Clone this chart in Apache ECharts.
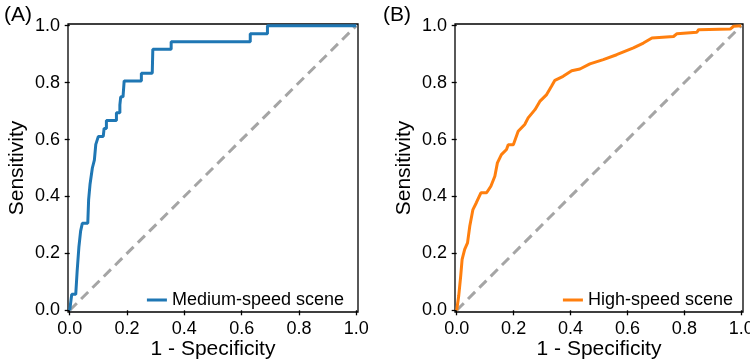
<!DOCTYPE html>
<html>
<head>
<meta charset="utf-8">
<script src="https://cdn.jsdelivr.net/npm/echarts@6/dist/echarts.min.js"></script>
<style>
  html, body { margin: 0; padding: 0; background: #fff; }
  #chart { width: 750px; height: 362px; }
</style>
</head>
<body>
<div id="chart"></div>
<script>
// tick values shared by both panels
const tickValues = [0, 0.2, 0.4, 0.6, 0.8, 1.0];

// panel A: medium-speed scene ROC (1 - specificity, sensitivity)
const mediumName = "Medium-speed scene";
const mediumRoc = [
  [0, 0], [0.007, 0.056], [0.021, 0.056], [0.026, 0.139], [0.032, 0.222],
  [0.038, 0.278], [0.044, 0.306], [0.063, 0.306], [0.066, 0.389], [0.071, 0.444],
  [0.079, 0.5], [0.086, 0.528], [0.091, 0.583], [0.1, 0.611], [0.117, 0.611],
  [0.12, 0.639], [0.128, 0.639], [0.128, 0.667], [0.163, 0.667], [0.163, 0.694],
  [0.175, 0.694], [0.175, 0.722], [0.178, 0.75], [0.186, 0.75], [0.19, 0.806],
  [0.25, 0.806], [0.25, 0.833], [0.288, 0.833], [0.29, 0.917], [0.354, 0.917],
  [0.354, 0.944], [0.63, 0.944], [0.63, 0.972], [0.69, 0.972], [0.69, 1], [1, 1]
];

// panel B: high-speed scene ROC
const highName = "High-speed scene";
const highRoc = [
  [0, 0], [0.007, 0.05], [0.014, 0.12], [0.019, 0.179], [0.028, 0.214],
  [0.038, 0.237], [0.046, 0.296], [0.057, 0.354], [0.069, 0.378], [0.085, 0.413],
  [0.105, 0.413], [0.12, 0.436], [0.134, 0.471], [0.143, 0.518], [0.157, 0.547],
  [0.175, 0.565], [0.181, 0.582], [0.199, 0.582], [0.216, 0.629], [0.239, 0.653],
  [0.251, 0.676], [0.275, 0.705], [0.292, 0.734], [0.316, 0.758], [0.333, 0.787],
  [0.345, 0.808], [0.374, 0.822], [0.404, 0.842], [0.433, 0.848], [0.468, 0.866],
  [0.515, 0.881], [0.562, 0.898], [0.621, 0.922], [0.656, 0.939], [0.686, 0.957],
  [0.762, 0.962], [0.774, 0.972], [0.844, 0.977], [0.85, 0.986], [0.961, 0.988],
  [0.973, 0.998], [1, 1]
];

const chanceLine = [[0, 0], [1, 1]];

const fontFamily = "'Liberation Sans', Arial, sans-serif";

function makeAxis(gridIndex, isX) {
  return {
    type: "value",
    gridIndex: gridIndex,
    min: -0.006,
    max: 1.006,
    name: isX ? "1 - Specificity" : "Sensitivity",
    nameLocation: "middle",
    nameMoveOverlap: false,
    nameGap: isX ? 27 : 40,
    nameTextStyle: { fontSize: 21, color: "#000", fontFamily: fontFamily },
    axisLine: { show: false },
    splitLine: { show: false },
    axisTick: {
      show: true,
      length: 5,
      customValues: tickValues,
      lineStyle: { color: "#000", width: 1.3 }
    },
    axisLabel: {
      customValues: tickValues,
      margin: 8,
      fontSize: 18,
      color: "#000",
      fontFamily: fontFamily,
      formatter: (v) => v.toFixed(1)
    }
  };
}

function rocSeries(name, data, idx, color) {
  return {
    name: name,
    type: "line",
    xAxisIndex: idx,
    yAxisIndex: idx,
    data: data,
    showSymbol: false,
    symbol: "none",
    z: 3,
    lineStyle: { color: color, width: 3 },
    itemStyle: { color: color },
    animation: false
  };
}

function chanceSeries(idx) {
  return {
    type: "line",
    xAxisIndex: idx,
    yAxisIndex: idx,
    data: chanceLine,
    showSymbol: false,
    symbol: "none",
    z: 2,
    lineStyle: { color: "#a5a5a5", width: 3, type: [10, 6] },
    silent: true,
    animation: false
  };
}

const chart = echarts.init(document.getElementById("chart"));
chart.setOption({
  backgroundColor: "#fff",
  animation: false,
  title: [
    { text: "(A)", left: -1, top: 0, textStyle: { fontSize: 21, fontWeight: "normal", color: "#000", fontFamily: fontFamily } },
    { text: "(B)", left: 378, top: 0, textStyle: { fontSize: 21, fontWeight: "normal", color: "#000", fontFamily: fontFamily } }
  ],
  grid: [
    { left: 68, top: 24, width: 290, height: 288, outerBoundsMode: "none", show: true, borderColor: "#000", borderWidth: 1.3, backgroundColor: "transparent" },
    { left: 455, top: 24, width: 288, height: 288, outerBoundsMode: "none", show: true, borderColor: "#000", borderWidth: 1.3, backgroundColor: "transparent" }
  ],
  xAxis: [makeAxis(0, true), makeAxis(1, true)],
  yAxis: [makeAxis(0, false), makeAxis(1, false)],
  legend: [
    {
      data: [mediumName],
      right: 401,
      top: 286,
      icon: "rect",
      itemWidth: 20,
      itemHeight: 3,
      textStyle: { fontSize: 18, color: "#000", fontFamily: fontFamily }
    },
    {
      data: [highName],
      right: 12,
      top: 286,
      icon: "rect",
      itemWidth: 20,
      itemHeight: 3,
      textStyle: { fontSize: 18, color: "#000", fontFamily: fontFamily }
    }
  ],
  series: [
    chanceSeries(0),
    rocSeries(mediumName, mediumRoc, 0, "#1f77b4"),
    chanceSeries(1),
    rocSeries(highName, highRoc, 1, "#ff7f0e")
  ]
});
</script>
</body>
</html>
